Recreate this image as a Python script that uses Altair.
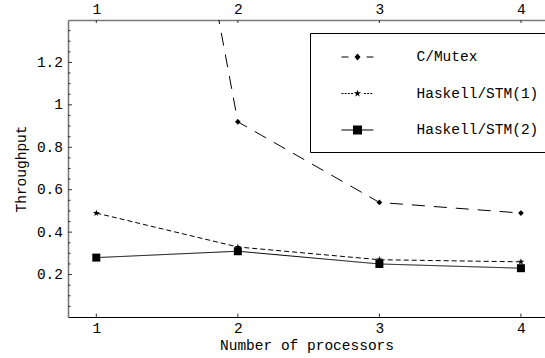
import altair as alt
import pandas as pd

# ---- data ----
processors = [1, 2, 3, 4]
c_mutex = [4.5, 0.92, 0.54, 0.49]
stm1 = [0.49, 0.33, 0.27, 0.26]
stm2 = [0.28, 0.31, 0.25, 0.23]
series_names = ["C/Mutex", "Haskell/STM(1)", "Haskell/STM(2)"]

x_tick_values = [1, 2, 3, 4]
y_major_ticks = [0.2, 0.4, 0.6, 0.8, 1.0, 1.2]
y_minor_ticks = [0.05, 0.1, 0.15, 0.25, 0.3, 0.35, 0.45, 0.5, 0.55, 0.65, 0.7, 0.75,
                 0.85, 0.9, 0.95, 1.05, 1.1, 1.15, 1.25, 1.3, 1.35]

rows = []
for name, vals in zip(series_names, [c_mutex, stm1, stm2]):
    for p, v in zip(processors, vals):
        rows.append({"processors": p, "throughput": v, "series": name})
data = pd.DataFrame(rows)

W, H = 477, 297
FONT = "Liberation Mono"
FS = 14.5
AXIS_GREY = "#7a7a7a"

xscale = alt.Scale(domain=[0.8, 4.17], nice=False, zero=False)
yscale = alt.Scale(domain=[0, 1.4], nice=False, zero=False)

y_axis = alt.Axis(values=y_major_ticks, format="~g", ticks=False, grid=False,
                  domainColor=AXIS_GREY, domainWidth=1.6, labelPadding=5.5,
                  title="Throughput", titlePadding=8)
x_bottom_axis = alt.Axis(orient="bottom", values=x_tick_values, format="d", ticks=False,
                         grid=False, domainColor="black", domainWidth=1, labelPadding=4,
                         title="Number of processors", titlePadding=4)
x_top_axis = alt.Axis(orient="top", values=x_tick_values, format="d", ticks=False,
                      grid=False, domainColor=AXIS_GREY, domainWidth=1.6, labelPadding=4,
                      title=None)

styles = {
    "C/Mutex": dict(dash=[13, 9], shape="diamond", size=32),
    "Haskell/STM(1)": dict(dash=[5, 3],
                           shape="M0,-1L0.2245,-0.309L0.951,-0.309L0.363,0.118L0.588,0.809L0,0.382"
                                 "L-0.588,0.809L-0.363,0.118L-0.951,-0.309L-0.2245,-0.309Z",
                           size=52),
    "Haskell/STM(2)": dict(dash=[1, 0], shape="square", size=64),
}

layers = []
first = True
for name in series_names:
    st = styles[name]
    base = alt.Chart(data).transform_filter(alt.datum.series == name)
    xa = x_bottom_axis if first else None
    first = False
    line = base.mark_line(color="black", strokeWidth=1, strokeDash=st["dash"], clip=True).encode(
        x=alt.X("processors:Q", scale=xscale, axis=xa),
        y=alt.Y("throughput:Q", scale=yscale, axis=y_axis),
    )
    pts = base.mark_point(shape=st["shape"], filled=True, color="black", size=st["size"],
                          opacity=1, clip=True).encode(
        x=alt.X("processors:Q", scale=xscale, axis=None),
        y=alt.Y("throughput:Q", scale=yscale, axis=y_axis),
    )
    layers += [line, pts]

# ---- legend symbols (line sample + marker) as filled paths, in units of r = 9 px ----
R = 9.0
def u(v):
    return f"{v / R:.4f}"

def hseg(x1, x2, hw=0.5):
    return (f"M{u(x1)},{u(-hw)}L{u(x2)},{u(-hw)}L{u(x2)},{u(hw)}L{u(x1)},{u(hw)}Z")

def star(rad):
    pts = [(0, -1), (0.2245, -0.309), (0.951, -0.309), (0.363, 0.118), (0.588, 0.809),
           (0, 0.382), (-0.588, 0.809), (-0.363, 0.118), (-0.951, -0.309), (-0.2245, -0.309)]
    s = ""
    for i, (a, b) in enumerate(pts):
        s += ("M" if i == 0 else "L") + f"{u(a * rad)},{u(b * rad)}"
    return s + "Z"

leg_mutex = (hseg(-16, -9) + hseg(9, 16) +
             f"M0,{u(-3.5)}L{u(3)},0L0,{u(3.5)}L{u(-3)},0Z")
dots = ""
xx = -16.0
while xx < 16:
    x2 = min(xx + 2.0, 16)
    if not (x2 > -3.2 and xx < 3.2):
        dots += hseg(xx, x2)
    xx += 3.2
leg_stm1 = dots + star(3.8)
leg_stm2 = (hseg(-16, 16) +
            f"M{u(-4.5)},{u(-4.5)}L{u(4.5)},{u(-4.5)}L{u(4.5)},{u(4.5)}L{u(-4.5)},{u(4.5)}Z")

legend_layer = alt.Chart(data).transform_filter("false").mark_point(
    filled=True, color="black", opacity=1, size=324, clip=True
).encode(
    x=alt.X("processors:Q", scale=xscale, axis=None),
    y=alt.Y("throughput:Q", scale=yscale, axis=y_axis),
    shape=alt.Shape("series:N",
                    scale=alt.Scale(domain=series_names, range=[leg_mutex, leg_stm1, leg_stm2]),
                    legend=alt.Legend(title=None, orient="none", legendX=242, legendY=13,
                                      strokeColor="black", fillColor="white", padding=14,
                                      rowPadding=19.5, labelFont=FONT, labelFontSize=FS,
                                      labelColor="black", labelOffset=49, symbolOffset=23.5,
                                      symbolSize=324, symbolFillColor="black")),
)
layers.append(legend_layer)

# ---- inward tick marks ----
ymaj = pd.DataFrame({"v": y_major_ticks})
ymin = pd.DataFrame({"v": y_minor_ticks})
xt = pd.DataFrame({"v": x_tick_values})

layers.append(alt.Chart(ymaj).mark_rule(color="#333", strokeWidth=1).encode(
    y=alt.Y("v:Q", scale=yscale, axis=y_axis), x=alt.value(0), x2=alt.value(4)))
layers.append(alt.Chart(ymin).mark_rule(color="#333", strokeWidth=1).encode(
    y=alt.Y("v:Q", scale=yscale, axis=y_axis), x=alt.value(0), x2=alt.value(2.5)))
layers.append(alt.Chart(xt).mark_rule(color="#333", strokeWidth=1).encode(
    x=alt.X("v:Q", scale=xscale, axis=x_top_axis), y=alt.value(0), y2=alt.value(3)))
layers.append(alt.Chart(xt).mark_rule(color="#333", strokeWidth=1).encode(
    x=alt.X("v:Q", scale=xscale, axis=None), y=alt.value(H), y2=alt.value(H - 3.5)))

chart = alt.layer(*layers).resolve_axis(x="independent").properties(
    width=W, height=H,
    padding={"left": 68, "top": 20, "right": 0, "bottom": 41},
    autosize=alt.AutoSizeParams(type="none"),
).configure_view(stroke=None).configure_axis(
    labelFont=FONT, labelFontSize=FS, labelColor="black",
    titleFont=FONT, titleFontSize=FS, titleFontWeight="normal", titleColor="black",
)

chart.save("out.html", embed_options={"renderer": "svg", "actions": False})
